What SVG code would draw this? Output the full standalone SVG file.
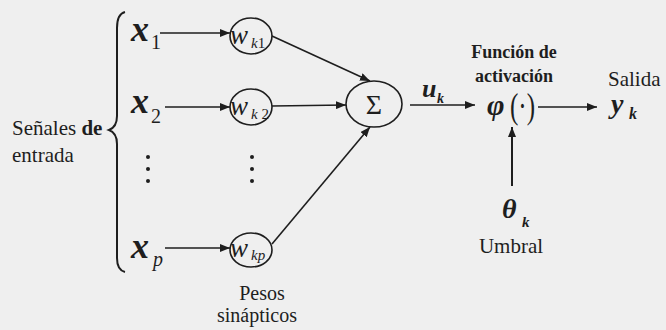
<svg xmlns="http://www.w3.org/2000/svg" width="666" height="330" viewBox="0 0 666 330">
<defs>
<marker id="ah" markerUnits="userSpaceOnUse" markerWidth="10" markerHeight="8" refX="10" refY="4" orient="auto">
<path d="M0,0 L10,4 L0,8 z" fill="#1e1e1e"/>
</marker>
<style>
text{font-family:"Liberation Serif","Tinos","Times New Roman","Noto Serif","DejaVu Serif","FreeSerif","Nimbus Roman",serif;fill:#1e1e1e}
.lab{font-size:21px}
.flab{font-size:18px;font-weight:bold}
.mv{font-size:36px;font-style:italic;font-weight:bold}
.sub{font-size:20px}
.w{font-size:27px;font-style:italic}
.ws{font-size:15px;font-style:italic}
.gb{font-style:italic;font-weight:bold}
.node{fill:none;stroke:#1e1e1e;stroke-width:1.6}
.conn path{fill:none;stroke:#1e1e1e;stroke-width:1.6;marker-end:url(#ah)}
</style>
</defs>
<rect width="666" height="330" fill="#efefef"/>

<g id="input-label">
<text class="lab" x="12" y="135">Señales <tspan font-weight="bold">de</tspan></text>
<text class="lab" x="12" y="162">entrada</text>
<path d="M125,12 Q117,14 117,28 L117,116 Q117,127 109,130 Q117,133 117,144 L117,258 Q117,270 125,272" fill="none" stroke="#1e1e1e" stroke-width="2"/>
</g>

<g id="x1"><text class="mv" x="131" y="41">x</text><text class="sub" x="151" y="49">1</text></g>
<g id="x2"><text class="mv" x="131" y="113">x</text><text class="sub" x="151" y="123">2</text></g>
<g id="xdots"><circle cx="148" cy="157" r="2" fill="#1e1e1e"/><circle cx="148" cy="169" r="2" fill="#1e1e1e"/><circle cx="148" cy="181" r="2" fill="#1e1e1e"/></g>
<g id="xp"><text class="mv" x="131" y="258">x</text><text class="sub" x="153" y="266" font-style="italic">p</text></g>

<g id="wk1"><ellipse class="node" cx="251" cy="36" rx="21" ry="18"/><text class="w" x="230" y="44">w</text><text class="ws" x="251" y="48">k<tspan font-style="normal">1</tspan></text></g>
<g id="wk2"><ellipse class="node" cx="251" cy="107" rx="21" ry="18"/><text class="w" x="230" y="115">w</text><text class="ws" x="251" y="119">k<tspan font-style="normal"> 2</tspan></text></g>
<g id="wdots"><circle cx="252" cy="157" r="2" fill="#1e1e1e"/><circle cx="252" cy="169" r="2" fill="#1e1e1e"/><circle cx="252" cy="181" r="2" fill="#1e1e1e"/></g>
<g id="wkp"><ellipse class="node" cx="251" cy="250" rx="21" ry="17"/><text class="w" x="230" y="257">w</text><text class="ws" x="251" y="260">kp</text></g>
<g id="weights-label">
<text x="262" y="300" font-size="20" text-anchor="middle">Pesos</text>
<text x="257" y="322" font-size="20" text-anchor="middle">sinápticos</text>
</g>

<g id="sum"><ellipse class="node" cx="374" cy="104" rx="28" ry="23"/><text x="374" y="114" font-size="28" text-anchor="middle">Σ</text></g>

<g id="uk"><text class="gb" x="422" y="97" font-size="26">u</text><text class="gb" x="437" y="103" font-size="14">k</text></g>

<g id="activation">
<text class="flab" x="514" y="58" text-anchor="middle">Función de</text>
<text class="flab" x="514" y="82" text-anchor="middle">activación</text>
<text class="gb" x="487" y="115" font-size="30">φ</text>
<text x="510" y="118" font-size="36" textLength="25" lengthAdjust="spacingAndGlyphs">(·)</text>
</g>

<g id="output">
<text class="lab" x="608" y="86">Salida</text>
<text class="gb" x="611" y="113" font-size="28">y</text><text class="gb" x="629" y="119" font-size="16">k</text>
</g>

<g id="threshold">
<text class="gb" x="502" y="218" font-size="28">θ</text><text class="gb" x="522" y="227" font-size="15">k</text>
<text class="lab" x="511" y="253" text-anchor="middle">Umbral</text>
</g>

<g id="connectors" class="conn">
<path d="M160,33 L230,33"/>
<path d="M165,107 L230,107"/>
<path d="M165,248 L230,248"/>
<path d="M272,36 L370,81"/>
<path d="M272,106 L346,105"/>
<path d="M272,244 L370,127"/>
<path d="M410,105 L475,105"/>
<path d="M538,107 L597,107"/>
<path d="M512,186 L512,127" style="stroke-width:2"/>
</g>
</svg>
